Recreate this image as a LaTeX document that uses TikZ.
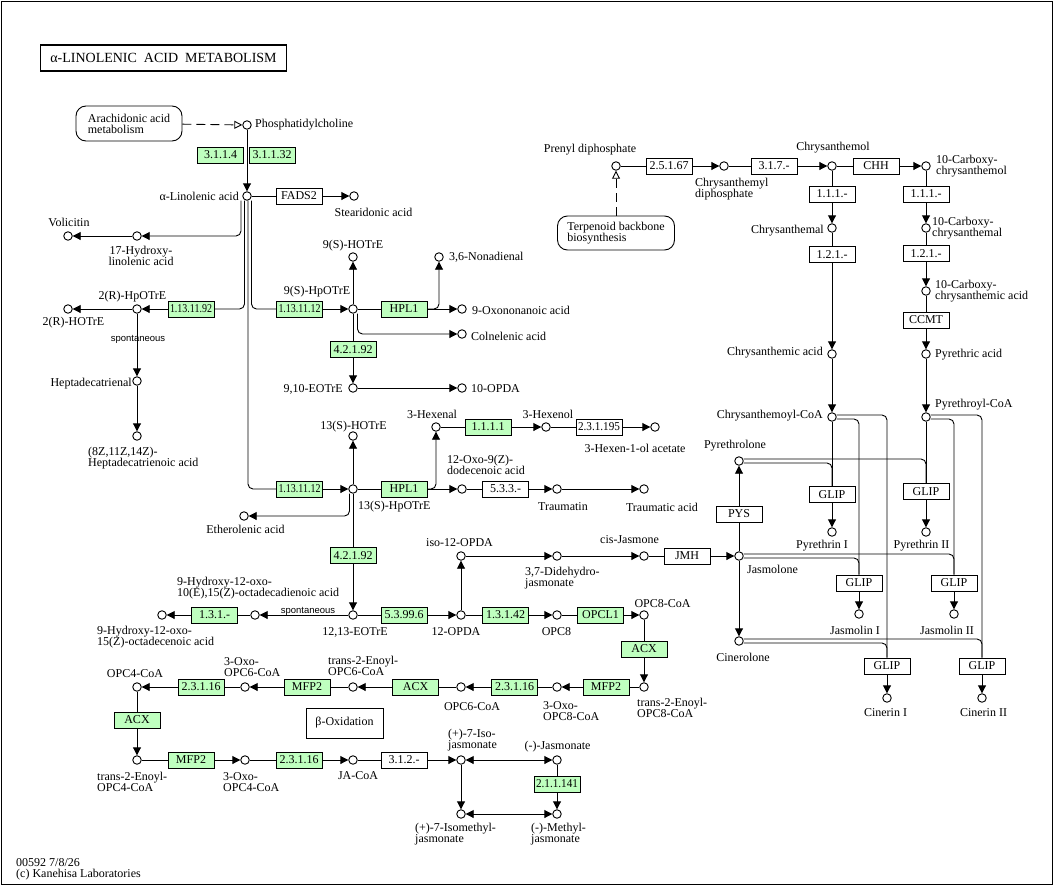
\documentclass[tikz,border=0pt]{standalone}
\usepackage{fontspec}
\usepackage{graphicx}
\setmainfont{Liberation Serif}
\newfontfamily\sansf{Liberation Sans}
\usetikzlibrary{arrows.meta}
\definecolor{kgreen}{HTML}{BFFFBF}
\newsavebox\ezbox
\newcommand\fitw[1]{\sbox\ezbox{#1}\ifdim\wd\ezbox>42pt\resizebox{42pt}{\height}{#1}\else\usebox\ezbox\fi}
\begin{document}
\begin{tikzpicture}[x=1pt,y=-1pt,
  cpd/.style={circle,draw,fill=white,minimum size=8.5pt,inner sep=0pt,line width=0.9pt},
  ez/.style={draw,fill=kgreen,minimum width=46pt,minimum height=16pt,inner sep=0pt,line width=0.9pt,font=\fontsize{12}{12}\selectfont},
  ezw/.style={ez,fill=white},
  lb/.style={inner sep=0pt,font=\fontsize{12}{11}\selectfont,align=center},
  lbl/.style={lb,align=left},
  ln/.style={line width=0.9pt},
  ar/.style={ln,-{Triangle[length=8pt,width=8pt]}},
  dar/.style={ln,{Triangle[length=8pt,width=8pt]}-{Triangle[length=8pt,width=8pt]}},
  rc/.style={rounded corners=5pt},
  dsh/.style={ln,dash pattern=on 9pt off 5pt,-{Triangle[open,length=8pt,width=8pt,fill=white]}},
  mapb/.style={draw,line width=0.9pt,rounded corners=10pt,inner sep=0pt,font=\fontsize{12}{11}\selectfont,align=left},
  sp/.style={inner sep=0pt,font=\sansf\fontsize{9.5}{9.5}\selectfont}
]
\useasboundingbox (0,0) rectangle (1055,886);
\draw[line width=1pt] (1,1) rectangle (1052,884);
\node[draw,line width=1.8pt,minimum width=246pt,minimum height=26pt,inner sep=0pt,font=\fontsize{14}{14}\selectfont] (title) at (163.5,58) {α-LINOLENIC\ \ ACID\ \ METABOLISM};

% map boxes
\node[mapb,minimum width=106pt,minimum height=35pt] (arach) at (129,123.5) {Arachidonic acid\\metabolism};
\node[mapb,minimum width=117pt,minimum height=34pt] (terp) at (616,233) {Terpenoid backbone\\biosynthesis};
\node[draw,line width=0.9pt,minimum width=77pt,minimum height=30pt,inner sep=0pt,font=\fontsize{12}{11}\selectfont] (boxbeta) at (344.5,723) {β-Oxidation};

% compounds
\node[cpd] (pc) at (247,125) {};
\node[cpd] (ala) at (247,196) {};
\node[cpd] (sda) at (354,196) {};
\node[cpd] (vol) at (68,236) {};
\node[cpd] (hla) at (137,236) {};
\node[cpd] (rhotre) at (68,309) {};
\node[cpd] (rhpotre) at (137,309) {};
\node[cpd] (hde) at (137,381) {};
\node[cpd] (hdea) at (137,436) {};
\node[cpd] (s9hp) at (353,309) {};
\node[cpd] (s9ho) at (353,257) {};
\node[cpd] (nona) at (439,257) {};
\node[cpd] (oxon) at (462,309) {};
\node[cpd] (coln) at (462,334) {};
\node[cpd] (eot910) at (353,388) {};
\node[cpd] (opda10) at (462,388) {};
\node[cpd] (s13ho) at (353,436) {};
\node[cpd] (s13hp) at (353,489) {};
\node[cpd] (ether) at (244,516) {};
\node[cpd] (hexal) at (436,427) {};
\node[cpd] (hexol) at (546,427) {};
\node[cpd] (hexac) at (655,427) {};
\node[cpd] (oxod) at (462,489) {};
\node[cpd] (traumatin) at (557,489) {};
\node[cpd] (traumatic) at (644,489) {};
\node[cpd] (isoopda) at (461,556) {};
\node[cpd] (didehydro) at (557,556) {};
\node[cpd] (cisjas) at (644,556) {};
\node[cpd] (jasmolone) at (739,556) {};
\node[cpd] (hyd2) at (162,615) {};
\node[cpd] (hyd1) at (255,615) {};
\node[cpd] (eot1213) at (353,615) {};
\node[cpd] (opda12) at (461,615) {};
\node[cpd] (opc8) at (557,615) {};
\node[cpd] (opc8coa) at (644,615) {};
\node[cpd] (t2opc8) at (644,687) {};
\node[cpd] (oxo8) at (557,687) {};
\node[cpd] (opc6) at (461,687) {};
\node[cpd] (t2opc6) at (353,687) {};
\node[cpd] (oxo6) at (245,687) {};
\node[cpd] (opc4) at (137,687) {};
\node[cpd] (t2opc4) at (137,760) {};
\node[cpd] (oxo4) at (245,760) {};
\node[cpd] (jacoa) at (353,760) {};
\node[cpd] (isojas) at (461,760) {};
\node[cpd] (jas) at (557,760) {};
\node[cpd] (isomej) at (461,814) {};
\node[cpd] (mej) at (557,814) {};
\node[cpd] (prenyl) at (616,166) {};
\node[cpd] (chrysdp) at (724,166) {};
\node[cpd] (chrysol) at (832,166) {};
\node[cpd] (carbol) at (926,166) {};
\node[cpd] (chrysal) at (832,228) {};
\node[cpd] (carbal) at (926,228) {};
\node[cpd] (carbacid) at (926,291) {};
\node[cpd] (chrysacid) at (832,354) {};
\node[cpd] (pyracid) at (926,354) {};
\node[cpd] (chrcoa) at (832,417) {};
\node[cpd] (pyrcoa) at (926,417) {};
\node[cpd] (pyrethrolone) at (739,461) {};
\node[cpd] (cinerolone) at (739,641) {};
\node[cpd] (pyr1) at (832,532) {};
\node[cpd] (pyr2) at (926,532) {};
\node[cpd] (jasm1) at (859,614) {};
\node[cpd] (jasm2) at (954,614) {};
\node[cpd] (cin1) at (887,698) {};
\node[cpd] (cin2) at (982,698) {};

% enzymes
\node[ez] (e3114) at (220.5,155) {3.1.1.4};
\node[ez] (e31132) at (272,155) {3.1.1.32};
\node[ezw] (fads2) at (299,196) {FADS2};
\node[ez] (e1311192) at (191,309) {\fitw{1.13.11.92}};
\node[ez] (e1311112a) at (299.5,309) {\fitw{1.13.11.12}};
\node[ez] (hpl1a) at (404,309) {HPL1};
\node[ez] (e42192a) at (353,349.5) {4.2.1.92};
\node[ez] (e1311112b) at (299.5,489) {\fitw{1.13.11.12}};
\node[ez] (hpl1b) at (404,489) {HPL1};
\node[ez] (e1111) at (488,427) {1.1.1.1};
\node[ezw] (e231195) at (599,427) {\fitw{2.3.1.195}};
\node[ezw] (e533) at (505.5,489) {5.3.3.-};
\node[ez] (e42192b) at (353,555.5) {4.2.1.92};
\node[ez] (e53996) at (404,615) {5.3.99.6};
\node[ez] (e13142) at (505.5,615) {1.3.1.42};
\node[ez] (opcl1) at (600.5,615) {OPCL1};
\node[ez] (acx1) at (644,649) {ACX};
\node[ez] (mfp2a) at (606,687) {MFP2};
\node[ez] (e23116a) at (514.5,687) {2.3.1.16};
\node[ez] (acx2) at (415.5,687) {ACX};
\node[ez] (mfp2b) at (307,687) {MFP2};
\node[ez] (e23116b) at (201,687) {2.3.1.16};
\node[ez] (acx3) at (137,720) {ACX};
\node[ez] (mfp2c) at (191,760) {MFP2};
\node[ez] (e23116c) at (299,760) {2.3.1.16};
\node[ezw] (e312) at (404,760) {3.1.2.-};
\node[ez] (e2111141) at (557,784) {\fitw{2.1.1.141}};
\node[ez] (e131) at (214.5,615) {1.3.1.-};
\node[ezw] (e25167) at (669,166) {2.5.1.67};
\node[ezw] (e317) at (774,166) {3.1.7.-};
\node[ezw] (chh) at (876,166) {CHH};
\node[ezw] (e111a) at (832,194) {1.1.1.-};
\node[ezw] (e121a) at (832,254.5) {1.2.1.-};
\node[ezw] (e111b) at (926,194) {1.1.1.-};
\node[ezw] (e121b) at (926,253.5) {1.2.1.-};
\node[ezw] (ccmt) at (926,320) {CCMT};
\node[ezw] (jmh) at (687,556) {JMH};
\node[ezw] (pys) at (739,514) {PYS};
\node[ezw] (glip1) at (832,494.5) {GLIP};
\node[ezw] (glip2) at (926,491.5) {GLIP};
\node[ezw] (glip3) at (859,583) {GLIP};
\node[ezw] (glip4) at (954,583) {GLIP};
\node[ezw] (glip5) at (887,666) {GLIP};
\node[ezw] (glip6) at (982,666) {GLIP};

% connectors
\draw[dsh] (arach) -- (pc);
\draw[ar] (pc) -- (ala);
\draw[ln] (ala) -- (fads2); \draw[ar] (fads2) -- (sda);
\draw[ar,rc] ([xshift=-6pt]ala.south) |- (hla);
\draw[ar] (hla) -- (vol);
\draw[ln,rc] ([xshift=-2.5pt]ala.south) |- (e1311192);
\draw[ar] (e1311192) -- (rhpotre);
\draw[ln,rc] ([xshift=4.5pt]ala.south) |- (e1311112a);
\draw[ar] (e1311112a) -- (s9hp);
\draw[ln,rc] ([xshift=1pt]ala.south) |- (e1311112b);
\draw[ar] (e1311112b) -- (s13hp);
\draw[ar] (rhpotre) -- (rhotre);
\draw[ar] (rhpotre) -- (hde);
\draw[ar] (hde) -- (hdea);
\draw[ar] (s9hp) -- (s9ho);
\draw[ln] (s9hp) -- (hpl1a); \draw[ar] (hpl1a) -- (oxon);
\draw[ar,rc] (hpl1a.east) -| (nona);
\draw[ar,rc] ([xshift=4.5pt]s9hp.south) |- (coln);
\draw[ln] (s9hp) -- (e42192a); \draw[ar] (e42192a) -- (eot910);
\draw[ar] (eot910) -- (opda10);
\draw[ar] (s13hp) -- (s13ho);
\draw[ln] (s13hp) -- (hpl1b); \draw[ar] (hpl1b) -- (oxod);
\draw[ar,rc] (hpl1b.east) -| (hexal);
\draw[ln] (hexal) -- (e1111); \draw[ar] (e1111) -- (hexol);
\draw[ln] (hexol) -- (e231195); \draw[ar] (e231195) -- (hexac);
\draw[ln] (oxod) -- (e533); \draw[ar] (e533) -- (traumatin);
\draw[ar] (traumatin) -- (traumatic);
\draw[ar,rc] ([xshift=-3.5pt]s13hp.south) |- (ether);
\draw[ln] (s13hp) -- (e42192b); \draw[ar] (e42192b) -- (eot1213);
\draw[ar] (eot1213) -- (hyd1);
\draw[ln] (hyd1) -- (e131); \draw[ar] (e131) -- (hyd2);
\draw[ln] (eot1213) -- (e53996); \draw[ar] (e53996) -- (opda12);
\draw[ar] (opda12) -- (isoopda);
\draw[ar] (isoopda) -- (didehydro);
\draw[ar] (didehydro) -- (cisjas);
\draw[ln] (cisjas) -- (jmh); \draw[ar] (jmh) -- (jasmolone);
\draw[ln] (opda12) -- (e13142); \draw[ar] (e13142) -- (opc8);
\draw[ln] (opc8) -- (opcl1); \draw[ar] (opcl1) -- (opc8coa);
\draw[ln] (opc8coa) -- (acx1); \draw[ar] (acx1) -- (t2opc8);
\draw[ln] (t2opc8) -- (mfp2a); \draw[ar] (mfp2a) -- (oxo8);
\draw[ln] (oxo8) -- (e23116a); \draw[ar] (e23116a) -- (opc6);
\draw[ln] (opc6) -- (acx2); \draw[ar] (acx2) -- (t2opc6);
\draw[ln] (t2opc6) -- (mfp2b); \draw[ar] (mfp2b) -- (oxo6);
\draw[ln] (oxo6) -- (e23116b); \draw[ar] (e23116b) -- (opc4);
\draw[ln] (opc4) -- (acx3); \draw[ar] (acx3) -- (t2opc4);
\draw[ln] (t2opc4) -- (mfp2c); \draw[ar] (mfp2c) -- (oxo4);
\draw[ln] (oxo4) -- (e23116c); \draw[ar] (e23116c) -- (jacoa);
\draw[ln] (jacoa) -- (e312); \draw[ar] (e312) -- (isojas);
\draw[dar] (isojas) -- (jas);
\draw[ln] (jas) -- (e2111141); \draw[ar] (e2111141) -- (mej);
\draw[ar] (isojas) -- (isomej);
\draw[dar] (isomej) -- (mej);
\draw[dsh] (terp) -- (prenyl);
\draw[ln] (prenyl) -- (e25167); \draw[ar] (e25167) -- (chrysdp);
\draw[ln] (chrysdp) -- (e317); \draw[ar] (e317) -- (chrysol);
\draw[ln] (chrysol) -- (chh); \draw[ar] (chh) -- (carbol);
\draw[ln] (chrysol) -- (e111a); \draw[ar] (e111a) -- (chrysal);
\draw[ln] (chrysal) -- (e121a); \draw[ar] (e121a) -- (chrysacid);
\draw[ar] (chrysacid) -- (chrcoa);
\draw[ln] (carbol) -- (e111b); \draw[ar] (e111b) -- (carbal);
\draw[ln] (carbal) -- (e121b); \draw[ar] (e121b) -- (carbacid);
\draw[ln] (carbacid) -- (ccmt); \draw[ar] (ccmt) -- (pyracid);
\draw[ar] (pyracid) -- (pyrcoa);
\draw[ln] (chrcoa) -- (glip1); \draw[ar] (glip1) -- (pyr1);
\draw[ln] (pyrcoa) -- (glip2); \draw[ar] (glip2) -- (pyr2);
\draw[ln,rc] ([yshift=-2pt]chrcoa.east) -| (glip3);
\draw[ln,rc] ([yshift=2pt]chrcoa.east) -| (glip5);
\draw[ln,rc] ([yshift=-2pt]pyrcoa.east) -| (glip4);
\draw[ln,rc] ([yshift=2pt]pyrcoa.east) -| (glip6);
\draw[ln,rc] ([yshift=2pt]pyrethrolone.east) -| (glip2);
\draw[ln,rc] ([yshift=-2pt]pyrethrolone.east) -| (glip1);
\draw[ln,rc] ([yshift=2pt]jasmolone.east) -| (glip4);
\draw[ln,rc] ([yshift=-2pt]jasmolone.east) -| (glip3);
\draw[ln,rc] ([yshift=2pt]cinerolone.east) -| (glip6);
\draw[ln,rc] ([yshift=-2pt]cinerolone.east) -| (glip5);
\draw[ln] (jasmolone) -- (pys); \draw[ar] (pys) -- (pyrethrolone);
\draw[ar] (jasmolone) -- (cinerolone);
\draw[ar] (glip3) -- (jasm1);
\draw[ar] (glip4) -- (jasm2);
\draw[ar] (glip5) -- (cin1);
\draw[ar] (glip6) -- (cin2);

% labels
\node[sp] (sp1) at (138,339) {spontaneous};
\node[sp,anchor=base] (sp2) at (308,613) {spontaneous};
\node[lb,anchor=west] (l-pc) at (255,125) {Phosphatidylcholine};
\node[lb,anchor=east] (l-ala) at (239,196) {α-Linolenic acid};
\node[lb] (l-sda) at (373.5,212) {Stearidonic acid};
\node[lb] (l-vol) at (69,222) {Volicitin};
\node[lb] (l-hla) at (141,255.5) {17-Hydroxy-\\linolenic acid};
\node[lb] (l-rhpotre) at (132.5,297) {2(R)-HpOTrE};
\node[lb] (l-rhotre) at (73.5,323) {2(R)-HOTrE};
\node[lb,anchor=east] (l-hde) at (132,384) {Heptadecatrienal};
\node[lbl,anchor=west] (l-hdea) at (88,458) {(8Z,11Z,14Z)-\\Heptadecatrienoic acid};
\node[lb] (l-s9hp) at (317,292) {9(S)-HpOTrE};
\node[lb] (l-s9ho) at (353,246) {9(S)-HOTrE};
\node[lb,anchor=west] (l-nona) at (449,257) {3,6-Nonadienal};
\node[lb,anchor=west] (l-oxon) at (472,310) {9-Oxononanoic acid};
\node[lb,anchor=west] (l-coln) at (471,336) {Colnelenic acid};
\node[lb,anchor=east] (l-eot910) at (343,389) {9,10-EOTrE};
\node[lb,anchor=west] (l-opda10) at (471,389) {10-OPDA};
\node[lb] (l-s13ho) at (353.5,427) {13(S)-HOTrE};
\node[lb,anchor=west] (l-s13hp) at (358,507) {13(S)-HpOTrE};
\node[lb] (l-ether) at (245.5,529) {Etherolenic acid};
\node[lb] (l-hexal) at (432,414) {3-Hexenal};
\node[lb] (l-hexol) at (548,414) {3-Hexenol};
\node[lb] (l-hexac) at (635,448) {3-Hexen-1-ol acetate};
\node[lbl,anchor=west] (l-oxod) at (447,465) {12-Oxo-9(Z)-\\dodecenoic acid};
\node[lb] (l-traumatin) at (563,507) {Traumatin};
\node[lb] (l-traumatic) at (662,507) {Traumatic acid};
\node[lb] (l-isoopda) at (459.5,543) {iso-12-OPDA};
\node[lb] (l-cisjas) at (629.5,540) {cis-Jasmone};
\node[lbl,anchor=west] (l-didehydro) at (525,578.5) {3,7-Didehydro-\\jasmonate};
\node[lb] (l-eot1213) at (355,632) {12,13-EOTrE};
\node[lb] (l-opda12) at (456,632) {12-OPDA};
\node[lb] (l-opc8) at (556.5,632) {OPC8};
\node[lb] (l-opc8coa) at (662.5,604) {OPC8-CoA};
\node[lbl,anchor=west] (l-t2opc8) at (637,708) {trans-2-Enoyl-\\OPC8-CoA};
\node[lbl,anchor=west] (l-oxo8) at (543,711) {3-Oxo-\\OPC8-CoA};
\node[lb] (l-opc6) at (472,707) {OPC6-CoA};
\node[lbl,anchor=west] (l-t2opc6) at (328,666) {trans-2-Enoyl-\\OPC6-CoA};
\node[lbl,anchor=west] (l-oxo6) at (224,667) {3-Oxo-\\OPC6-CoA};
\node[lb] (l-opc4) at (135,674) {OPC4-CoA};
\node[lbl,anchor=west] (l-t2opc4) at (97,782) {trans-2-Enoyl-\\OPC4-CoA};
\node[lbl,anchor=west] (l-oxo4) at (223,782) {3-Oxo-\\OPC4-CoA};
\node[lb] (l-jacoa) at (358,776) {JA-CoA};
\node[lbl,anchor=west] (l-isojas) at (448,740.5) {(+)-7-Iso-\\jasmonate};
\node[lb] (l-jas) at (557.5,747) {(-)-Jasmonate};
\node[lbl,anchor=west] (l-isomej) at (415,834.5) {(+)-7-Isomethyl-\\jasmonate};
\node[lbl,anchor=west] (l-mej) at (531,834.5) {(-)-Methyl-\\jasmonate};
\node[lbl,anchor=west] (l-hyd1) at (177,588) {9-Hydroxy-12-oxo-\\10(E),15(Z)-octadecadienoic acid};
\node[lbl,anchor=west] (l-hyd2) at (97,637) {9-Hydroxy-12-oxo-\\15(Z)-octadecenoic acid};
\node[lb] (l-prenyl) at (590,150) {Prenyl diphosphate};
\node[lbl,anchor=west] (l-chrysdp) at (695,189.5) {Chrysanthemyl\\diphosphate};
\node[lb] (l-chrysol) at (833,148) {Chrysanthemol};
\node[lbl,anchor=west] (l-carbol) at (936,166) {10-Carboxy-\\chrysanthemol};
\node[lb,anchor=east] (l-chrysal) at (824,231) {Chrysanthemal};
\node[lbl,anchor=west] (l-carbal) at (932,228.5) {10-Carboxy-\\chrysanthemal};
\node[lbl,anchor=west] (l-carbacid) at (935,291.5) {10-Carboxy-\\chrysanthemic acid};
\node[lb,anchor=east] (l-chrysacid) at (823,353) {Chrysanthemic acid};
\node[lb,anchor=west] (l-pyracid) at (935,355) {Pyrethric acid};
\node[lb,anchor=east] (l-chrcoa) at (823,416) {Chrysanthemoyl-CoA};
\node[lb,anchor=west] (l-pyrcoa) at (935,405) {Pyrethroyl-CoA};
\node[lb] (l-pyrethrolone) at (735,446) {Pyrethrolone};
\node[lb,anchor=west] (l-jasmolone) at (747,569) {Jasmolone};
\node[lb] (l-cinerolone) at (743,657) {Cinerolone};
\node[lb] (l-pyr1) at (822,546) {Pyrethrin I};
\node[lb] (l-pyr2) at (921.5,546) {Pyrethrin II};
\node[lb] (l-jasm1) at (855,630) {Jasmolin I};
\node[lb] (l-jasm2) at (947,630) {Jasmolin II};
\node[lb] (l-cin1) at (885.5,713) {Cinerin I};
\node[lb] (l-cin2) at (983.5,713) {Cinerin II};
\node[lbl,anchor=west,font=\fontsize{12}{11}\selectfont] (l-foot) at (16,869.5) {00592 7/8/26\\(c) Kanehisa Laboratories};
\end{tikzpicture}
\end{document}
